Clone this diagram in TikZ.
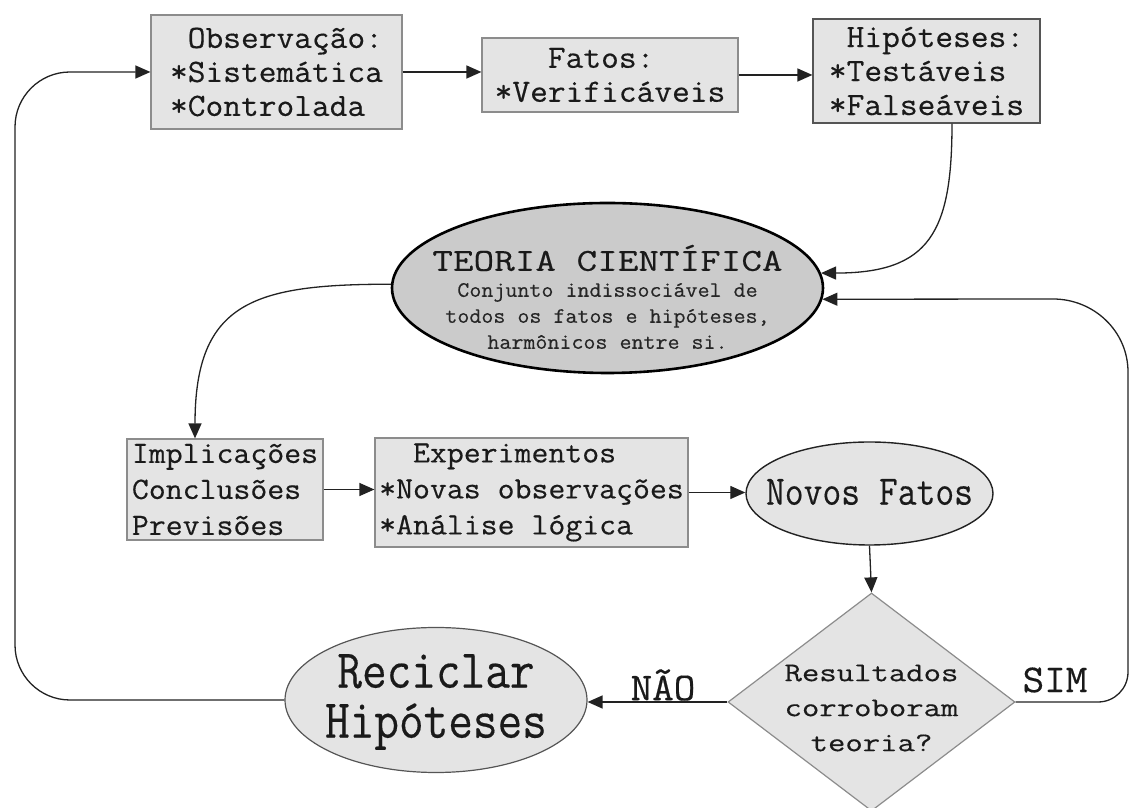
\documentclass[tikz,border=0pt]{standalone}
\usepackage{fontspec}
\setmainfont{Latin Modern Mono}
\newfontfamily\maq{Latin Modern Mono}[FakeStretch=1.06,FakeBold=0.4]
\newfontfamily\maqlarga{Latin Modern Mono}[FakeStretch=1.25,FakeBold=0.4]
\newfontfamily\maqestreita{Latin Modern Mono}[FakeStretch=0.87,FakeBold=0.3]
\usetikzlibrary{shapes.geometric,arrows.meta}

\definecolor{cinzaCx}{HTML}{E4E4E4}
\definecolor{cinzaTeo}{HTML}{CBCBCB}
\definecolor{borda}{HTML}{8C8C8C}
\definecolor{bordaEsc}{HTML}{555555}
\definecolor{linha}{HTML}{222222}
\definecolor{texto}{HTML}{1A1A1A}

\begin{document}
\begin{tikzpicture}[x=1pt, y=1pt,
  caixa/.style={rectangle, draw=borda, fill=cinzaCx, line width=1.2pt, inner sep=0pt, align=left, text=texto, font=\maq\fontsize{32.5}{34}\selectfont},
  caixab/.style={caixa, font=\maq\fontsize{31}{36}\selectfont},
  bolha/.style={ellipse, fill=cinzaCx, inner sep=0pt},
  rot/.style={text=texto, inner sep=0pt, align=center},
  seta/.style={-{Triangle[length=15pt,width=13pt]}, line width=1.3pt, draw=linha}]

\useasboundingbox (0,0) rectangle (1130,808);

% Linha de cima
\node[caixa, minimum width=251, minimum height=114] at (276.5,736) (Obs)
{\phantom{*}Observação:\\*Sistemática\\*Controlada};
\node[caixa, minimum width=256, minimum height=74] at (610,733) (Fatos)
{\phantom{***}Fatos:\\*Verificáveis};
\node[caixa, draw=bordaEsc, minimum width=227, minimum height=104] at (926.5,737) (Hip)
{\phantom{*}Hipóteses:\\*Testáveis\\*Falseáveis};

% Teoria
\node[bolha, draw=black, fill=cinzaTeo, line width=2.6pt, minimum width=431, minimum height=170] at (607.5,520) (Teoria) {};
\node[rot, font=\maqlarga\fontsize{32}{34}\selectfont] at (607.5,550) (TeoTit) {TEORIA CIENTÍFICA};
\node[rot, font=\maq\fontsize{22}{26}\selectfont, text=black!85] at (607.5,492) (TeoSub)
{Conjunto indissociável de\\todos os fatos e hipóteses,\\harmônicos entre si.};

% Linha do meio
\node[caixab, minimum width=196, minimum height=101] at (225,318.5) (Impl)
{Implicações\\Conclusões\\Previsões};
\node[caixab, minimum width=313, minimum height=109] at (531.5,315.5) (Exp)
{\phantom{**}Experimentos\\*Novas observações\\*Análise lógica};
\node[bolha, draw=linha, line width=1.4pt, minimum width=247, minimum height=103] at (869.5,314.5) (NovFat) {};
\node[rot, font=\maqestreita\fontsize{42}{42}\selectfont] at (869.5,316) (NovTxt) {Novos Fatos};

% Decisao
\node[diamond, draw=borda, fill=cinzaCx, line width=1.2pt, inner sep=0pt, minimum width=287, minimum height=218] at (871.5,106) (Dec) {};
\node[rot, font=\maqlarga\fontsize{27}{35}\selectfont] at (871.5,100) (DecTxt)
{Resultados\\corroboram\\teoria?};

% Reciclar
\node[bolha, draw=bordaEsc, line width=1.2pt, minimum width=302, minimum height=145] at (436,108) (Recic) {};
\node[rot, font=\maqestreita\fontsize{55}{50}\selectfont] at (436,106) (RecTxt)
{Reciclar\\Hipóteses};

\node[rot, font=\maq\fontsize{39.5}{40}\selectfont] at (663,123) (Nao) {NÃO};
\node[rot, font=\maq\fontsize{39.5}{40}\selectfont] at (1055,128) (Sim) {SIM};

% Pontos das curvas
\coordinate (volta) at (15,736);
\coordinate (simA) at (1098,106);
\coordinate (simB) at (1128,136);
\coordinate (simC) at (1128,436);
\coordinate (simD) at (1053,509);

% Setas
\draw[seta] (Obs.east) -- (Obs.east -| Fatos.west);
\draw[seta] (Fatos.east) -- (Fatos.east -| Hip.west);
\draw[seta] ([xshift=25.5pt]Hip.south) to[out=-90, in=0, looseness=1.4] (Teoria.4);
\draw[seta] (Teoria.179) to[out=180, in=90, looseness=1.4] ([xshift=-30pt]Impl.north);
\draw[seta] (Impl.east) -- (Impl.east -| Exp.west);
\draw[seta] (Exp.east) -- (Exp.east -| NovFat.west);
\draw[seta] (NovFat.south) -- (Dec.north);
\draw[seta] (Dec.west) -- (Dec.west -| Recic.east);
\draw[seta] (Dec.east) -- (simA) to[out=0, in=-90] (simB) -- (simC) to[out=90, in=0] (simD) -- (Teoria.-3);
\draw[seta, rounded corners=55] (Recic.west) -| (volta) -- (Obs.west);

\end{tikzpicture}
\end{document}
